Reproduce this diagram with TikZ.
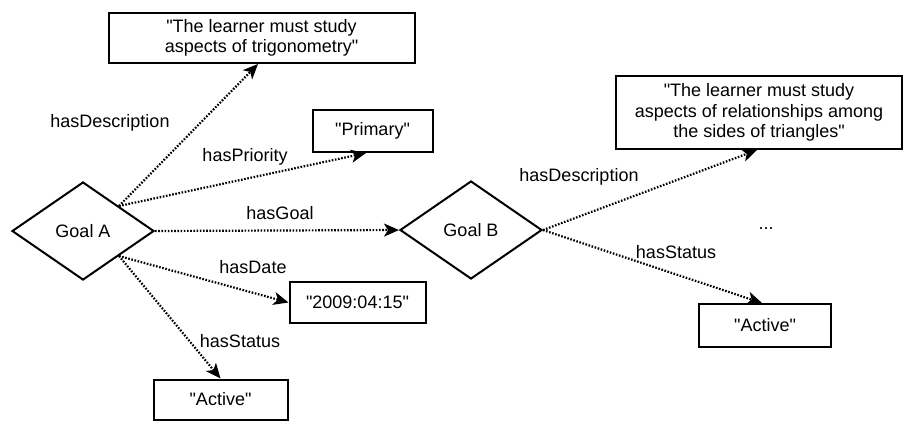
\documentclass[tikz,border=0pt]{standalone}
\usepackage{fontspec}
\setmainfont{Liberation Sans}[Ligatures=TeXOff]
\usetikzlibrary{shapes.geometric, arrows.meta, calc}

\begin{document}
\begin{tikzpicture}[x=0.5pt, y=-0.5pt,
    every node/.style={font=\fontsize{9}{10.3}\selectfont},
    goal/.style={diamond, draw, line width=1pt, inner sep=0pt,
                 minimum width=71pt, minimum height=49pt},
    literal/.style={rectangle, draw, line width=1pt, align=center, inner sep=1pt},
    prop/.style={dash pattern=on 0.8pt off 0.8pt, line width=1.1pt,
                 -{Stealth[length=7.5pt, width=6.5pt, inset=2pt]}},
    lbl/.style={inner sep=0pt}]
\useasboundingbox (0,0) rectangle (919,420);

% resources
\node[goal] (goalA) at (83,231) {Goal A};
\node[goal] (goalB) at (471,230) {Goal B};

% literals
\node[literal, minimum width=153pt, minimum height=25pt] (descA) at (261.5,38)
    {"The learner must study\\aspects of trigonometry"};
\node[literal, minimum width=60pt, minimum height=21pt] (prio) at (372.5,131) {"Primary"};
\node[literal, minimum width=68pt, minimum height=20.5pt] (date) at (357.5,302.5) {"2009:04:15"};
\node[literal, minimum width=67pt, minimum height=20pt] (statA) at (220.5,399.5) {"Active"};
\node[literal, minimum width=143pt, minimum height=36.5pt] (descB) at (759,112.5)
    {"The learner must study\\aspects of relationships among\\the sides of triangles"};
\node[literal, minimum width=66pt, minimum height=21.5pt] (statB) at (765,325.5) {"Active"};
\node (dots) at (766,229) {...};

% properties
\coordinate (aUp) at ($(goalA.north)!0.5!(goalA.east)$);
\coordinate (aDown) at ($(goalA.south)!0.5!(goalA.east)$);
\draw[prop] (aUp) -- (descA.south -| 258,0);
\draw[prop] (aUp) -- (prio.south -| 366,0);
\draw[prop] (goalA.east) -- (goalB.west);
\draw[prop] (aDown) -- (date.west);
\draw[prop] (aDown) -- (statA.north);
\draw[prop] (goalB.east) -- (descB.south -| 757,0);
\draw[prop] (goalB.east) -- (statB.north -| 762,0);

\node[lbl] (lDescA) at (110,123) {hasDescription};
\node[lbl] (lPrio) at (245,157) {hasPriority};
\node[lbl] (lGoal) at (280,213) {hasGoal};
\node[lbl] (lDate) at (253,267) {hasDate};
\node[lbl] (lStatA) at (240,341) {hasStatus};
\node[lbl] (lDescB) at (579,177) {hasDescription};
\node[lbl] (lStatB) at (676,252) {hasStatus};
\end{tikzpicture}
\end{document}
